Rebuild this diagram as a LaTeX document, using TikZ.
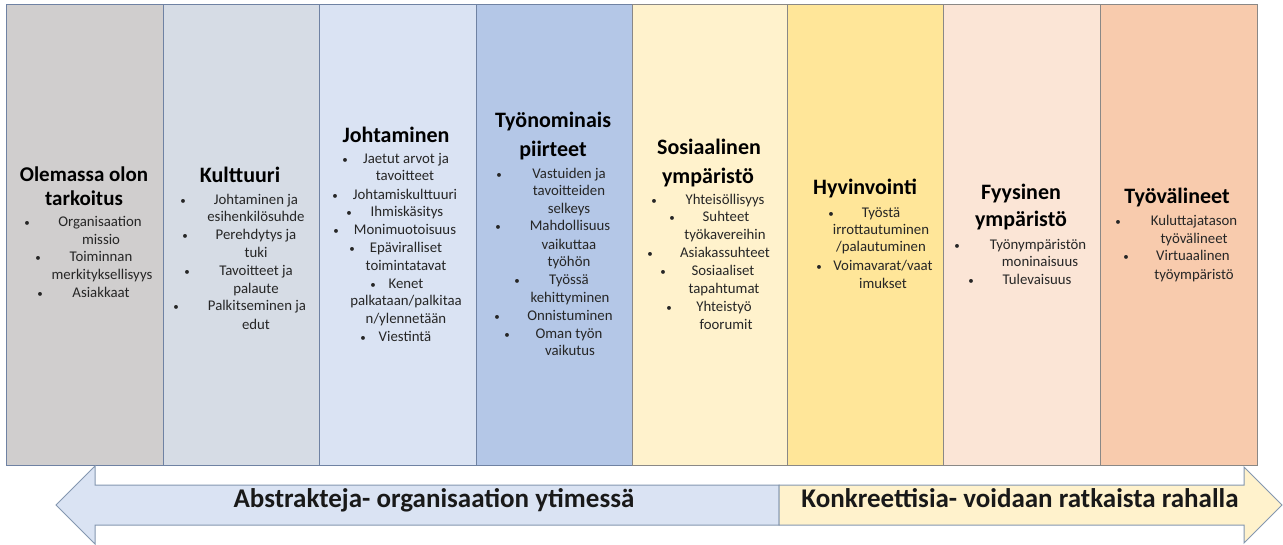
\documentclass[tikz,border=0pt]{standalone}
\usepackage{fontspec}
\setmainfont{Carlito}
\definecolor{cA}{HTML}{D0CECE}
\definecolor{cB}{HTML}{D6DCE5}
\definecolor{cC}{HTML}{DAE3F3}
\definecolor{cD}{HTML}{B4C7E7}
\definecolor{cE}{HTML}{FFF2CC}
\definecolor{cF}{HTML}{FFE699}
\definecolor{cG}{HTML}{FBE5D6}
\definecolor{cH}{HTML}{F8CBAD}
\definecolor{edgeCool}{HTML}{6F82A3}
\definecolor{edgeWarm}{HTML}{8A8886}
\definecolor{arrL}{HTML}{DAE3F3}
\definecolor{arrR}{HTML}{FFF2CC}
\definecolor{arrEdge}{HTML}{8497B0}
\definecolor{bodyc}{HTML}{262626}
\tikzset{
  colbox/.style={line width=1pt},
  ttl/.style={anchor=mid, inner sep=0pt, font=\fontsize{22}{27}\selectfont\bfseries, text=black},
  ttlsmall/.style={anchor=mid, inner sep=0pt, font=\fontsize{21}{24}\selectfont\bfseries, text=black},
  bodytxt/.style={anchor=mid, inner sep=0pt, font=\fontsize{14.8}{17.7}\selectfont, text=bodyc},
  bul/.style={anchor=mid, inner sep=0pt, font=\fontsize{11}{12}\selectfont, text=bodyc},
  arrtxt/.style={anchor=mid, inner sep=0pt, font=\fontsize{27}{30}\selectfont\bfseries, text=black!90},
  arrshape/.style={draw=arrEdge, line width=1pt, line join=miter}
}
\newcommand\Ltx[4]{\node[bodytxt] (#1) at (#2,#3) {#4};}
\newcommand\Bul[3]{\node[bul] (#1) at (#2,#3) {•};}
\begin{document}
\begin{tikzpicture}[x=1pt,y=-1pt]
\useasboundingbox (0,0) rectangle (1283,545);
\fill[white] (0,0) rectangle (1283,545);
% columns
\draw[colbox, fill=cA, draw=edgeCool] (6,5) rectangle (163,465);
\draw[colbox, fill=cB, draw=edgeCool] (163,5) rectangle (319,465);
\draw[colbox, fill=cC, draw=edgeCool] (319,5) rectangle (476,465);
\draw[colbox, fill=cD, draw=edgeCool] (476,5) rectangle (632,465);
\draw[colbox, fill=cE, draw=edgeWarm] (632,5) rectangle (787,465);
\draw[colbox, fill=cF, draw=edgeWarm] (787,5) rectangle (943,465);
\draw[colbox, fill=cG, draw=edgeWarm] (943,5) rectangle (1100,465);
\draw[colbox, fill=cH, draw=edgeWarm] (1100,5) rectangle (1257,465);
% arrows
\draw[arrshape, fill=arrL] (779,485) -- (95,485) -- (95,466) -- (56,505) -- (95,544) -- (95,525) -- (779,525) -- cycle;
\draw[arrshape, fill=arrR] (779,485) -- (1244,485) -- (1244,467) -- (1282,505) -- (1244,543) -- (1244,525) -- (779,525) -- cycle;
\node[arrtxt] (abs) at (434,505) {Abstrakteja- organisaation ytimessä};
\node[arrtxt] (konk) at (1020,505) {Konkreettisia- voidaan ratkaista rahalla};
% column 1
\node[ttlsmall] (t1a) at (84,179) {Olemassa olon};
\node[ttlsmall] (t1b) at (84,203) {tarkoitus};
\Bul{b1a}{27}{224}\Ltx{l1a}{100}{224}{Organisaation}\Ltx{l1b}{101}{242}{missio}
\Bul{b1b}{38}{259}\Ltx{l1c}{101}{259}{Toiminnan}\Ltx{l1d}{102}{277}{merkityksellisyys}
\Bul{b1c}{40}{295}\Ltx{l1e}{101}{295}{Asiakkaat}
% column 2
\node[ttl] (t2a) at (240,180) {Kulttuuri};
\Bul{b2a}{183}{202}\Ltx{l2a}{256}{202}{Johtaminen ja}\Ltx{l2b}{256}{219}{esihenkilösuhde}
\Bul{b2b}{185}{237}\Ltx{l2c}{256}{237}{Perehdytys ja}\Ltx{l2d}{256}{255}{tuki}
\Bul{b2c}{187}{273}\Ltx{l2e}{256}{273}{Tavoitteet ja}\Ltx{l2f}{256}{291}{palaute}
\Bul{b2d}{176}{308}\Ltx{l2g}{257}{308}{Palkitseminen ja}\Ltx{l2h}{256}{327}{edut}
% column 3
\node[ttl] (t3a) at (396,140) {Johtaminen};
\Bul{b3a}{345}{161}\Ltx{l3a}{406}{161}{Jaetut arvot ja}\Ltx{l3b}{405}{178}{tavoitteet}
\Bul{b3b}{335}{197}\Ltx{l3c}{405}{197}{Johtamiskulttuuri}
\Bul{b3c}{349}{214}\Ltx{l3d}{407}{214}{Ihmiskäsitys}
\Bul{b3d}{336}{232}\Ltx{l3e}{405}{232}{Monimuotoisuus}
\Bul{b3e}{352}{250}\Ltx{l3f}{406}{250}{Epäviralliset}\Ltx{l3g}{406}{268}{toimintatavat}
\Bul{b3f}{373}{286}\Ltx{l3h}{406}{286}{Kenet}\Ltx{l3i}{406}{303}{palkataan/palkitaa}\Ltx{l3j}{406}{321}{n/ylennetään}
\Bul{b3g}{363}{339}\Ltx{l3k}{405}{339}{Viestintä}
% column 4
\node[ttl] (t4a) at (553,125) {Työnominais};
\node[ttl] (t4b) at (553,154) {piirteet};
\Bul{b4a}{499}{176}\Ltx{l4a}{569}{176}{Vastuiden ja}\Ltx{l4b}{569}{193}{tavoitteiden}\Ltx{l4c}{569}{211}{selkeys}
\Bul{b4b}{498}{228}\Ltx{l4d}{570}{228}{Mahdollisuus}\Ltx{l4e}{569}{247}{vaikuttaa}\Ltx{l4f}{569}{264}{työhön}
\Bul{b4c}{517}{282}\Ltx{l4g}{569}{282}{Työssä}\Ltx{l4h}{570}{300}{kehittyminen}
\Bul{b4d}{497}{318}\Ltx{l4i}{570}{318}{Onnistuminen}
\Bul{b4e}{507}{336}\Ltx{l4j}{569}{336}{Oman työn}\Ltx{l4k}{570}{353}{vaikutus}
% column 5
\node[ttl] (t5a) at (709,152) {Sosiaalinen};
\node[ttl] (t5b) at (708,181) {ympäristö};
\Bul{b5a}{654}{202}\Ltx{l5a}{725}{202}{Yhteisöllisyys}
\Bul{b5b}{672}{219}\Ltx{l5b}{726}{219}{Suhteet}\Ltx{l5c}{725}{237}{työkavereihin}
\Bul{b5c}{650}{255}\Ltx{l5d}{725}{255}{Asiakassuhteet}
\Bul{b5d}{663}{273}\Ltx{l5e}{723}{273}{Sosiaaliset}\Ltx{l5f}{724}{291}{tapahtumat}
\Bul{b5e}{669}{309}\Ltx{l5g}{724}{309}{Yhteistyö}\Ltx{l5h}{726}{327}{foorumit}
% column 6
\node[ttl] (t6a) at (865,192) {Hyvinvointi};
\Bul{b6a}{831}{215}\Ltx{l6a}{881}{215}{Työstä}\Ltx{l6b}{881}{232}{irrottautuminen}\Ltx{l6c}{881}{249}{/palautuminen}
\Bul{b6b}{819}{268}\Ltx{l6d}{883}{268}{Voimavarat/vaat}\Ltx{l6e}{883}{286}{imukset}
% column 7
\node[ttl] (t7a) at (1021,197) {Fyysinen};
\node[ttl] (t7b) at (1021,224) {ympäristö};
\Bul{b7a}{957}{247}\Ltx{l7a}{1038}{247}{Työnympäristön}\Ltx{l7b}{1040}{264}{moninaisuus}
\Bul{b7b}{971}{282}\Ltx{l7c}{1037}{282}{Tulevaisuus}
% column 8
\node[ttl] (t8a) at (1177,201) {Työvälineet};
\Bul{b8a}{1118}{223}\Ltx{l8a}{1194}{223}{Kuluttajatason}\Ltx{l8b}{1194}{241}{työvälineet}
\Bul{b8b}{1126}{258}\Ltx{l8c}{1193}{258}{Virtuaalinen}\Ltx{l8d}{1194}{277}{työympäristö}
\end{tikzpicture}
\end{document}
